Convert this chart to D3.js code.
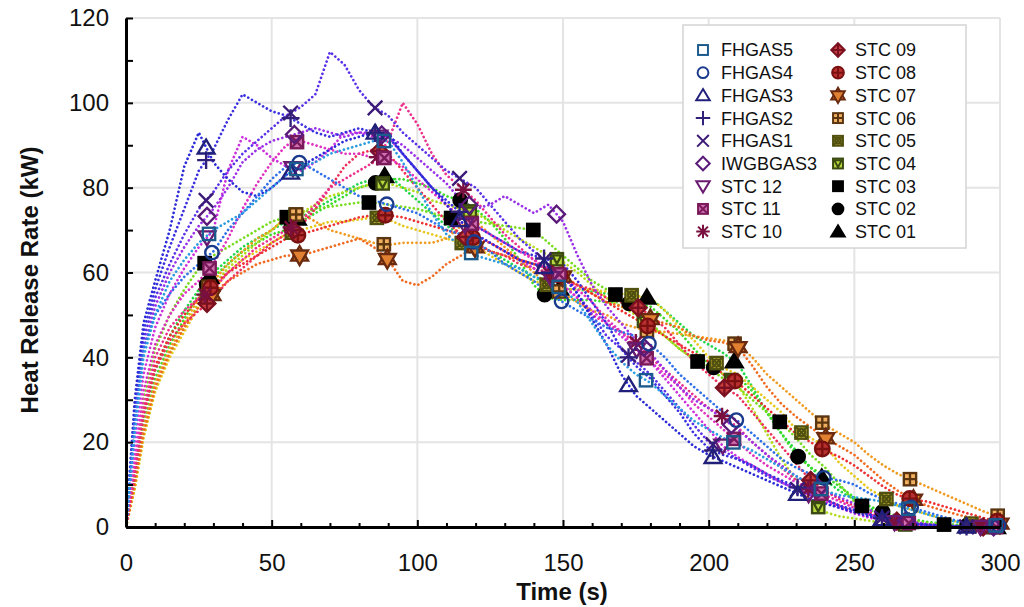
<!DOCTYPE html>
<html><head><meta charset="utf-8">
<script src="https://cdn.jsdelivr.net/npm/d3@7"></script>
<style>body{margin:0;background:#fff;} svg{display:block;font-family:Arial,"Liberation Sans",sans-serif;}</style>
</head><body><svg id="c" width="1024" height="607"></svg>
<script>
// ---- data ----
const times = [0,3,6,10,15,20,25,30,35,40,45,50,55,60,65,70,75,80,85,90,95,100,105,110,115,120,125,130,135,140,145,150,155,160,165,170,175,180,185,190,195,200,205,210,215,220,225,230,235,240,245,250,255,260,265,270,275,280,285,290,295,300];

const seriesNames = ["FHGAS5","FHGAS4","FHGAS3","FHGAS2","FHGAS1","IWGBGAS3","STC 12","STC 11","STC 10","STC 09","STC 08","STC 07","STC 06","STC 05","STC 04","STC 03","STC 02","STC 01"];

const FHGAS5 = [0,22,40, 50,58,63,67,70,72,74,77,80,83, 85,86,88,89,90,91,91,86,80,74, 69,66,64,63,62,61,59,58,56,53, 48,43,39,36,34,31,28,25,23,21, 19.5,18,16,14,12,10,8.5,7.5,7,6.5, 6,5,4,3,2,1.2,0.8,0.5,0.3];
const FHGAS4 = [0,25,42, 50,55,59,62,65,70,74,78,82,85, 86,84,82,80,78,77,76,75,74,72, 70,69,67,65,62,60,58,55,53,51, 49,47,46,45,43,40,36,33,30,27, 25,22,19,16,14,12.5,11.5,11,10,8, 6.5,5.5,4.5,3.5,2.5,1.5,1,0.5,0.3];
const FHGAS3 = [0,30,48, 58,70,85,93,86,82,79,78,80,83, 85,87,89,91,92,93,93,88,84,80, 76,72,69,67,65,63,62,61,60,55, 49,43,36,31,28,25,22,19,17,15.5, 14,12.5,11,9.5,8,6.5,5.5,4.5,3.5,2.5, 1.8,1.2,0.8,0.5,0.3,0.2,0.1,0,0];
const FHGAS2 = [0,28,46, 56,66,75,84,89,96,102,100,98,97, 95,93,92,93,94,93,92,88,84,80, 77,74,71,69,67,65,64,63,62,58, 53,48,42,38,35,31,27,22,18.5,17, 16,14.5,12.5,11,9.5,8,6.5,5,4,3, 2,1.3,0.8,0.5,0.3,0.2,0.1,0,0];
const FHGAS1 = [0,26,44, 54,62,69,75,79,84,88,91,94,97, 99,102,112,109,103,99,97,93,90,87, 84,82,80,76,72,68,65,62,59,55, 50,45,42,39,36,32,28,24,20,18, 16,14,12,10.5,9,7.5,6.5,5,4,3, 2,1.2,0.7,0.4,0.2,0.1,0,0,0];
const IWGBGAS3 = [0,24,42, 52,60,66,71,75,80,86,89,91,92, 93,94,93,92,93,93,92,90,87,84, 81,77,75,76,78,76,74,76,72,64, 57,52,48,44,41,37,33,30,28,25.5, 23,20,17,14.5,12,10,8.5,7,5.5,4, 3,2,1.2,0.7,0.4,0.2,0.1,0,0];
const STC12 = [0,20,36, 47,55,61,66,70,84,92,90,87,85, 84,86,89,93,93,92,92,88,84,80, 76,72,69,67,65,63,61,59,57,54, 51,48,45,42,39,35,31,27,23,19, 16.5,14.5,12.5,10.5,9,7.5,6,4.5,3.2,2.2, 1.5,1,0.6,0.4,0.2,0.1,0,0,0];
const STC11 = [0,16,32, 43,50,55,58,62,68,75,81,86,90, 91,90,89,88,88,87,87,85,82,79, 76,73,71,69,67,65,63,61,59,56, 53,49,46,42,39,36,33,29,26,23, 20,17,14.5,12.5,10.5,9,7.5,6,4.5,3, 2,1.3,0.8,0.5,0.3,0.1,0,0,0];
const STC10 = [0,14,28, 40,47,51,54,56,60,63,66,68,70, 72,76,80,82,84,86,91,100,95,88, 83,80,77,73,69,66,63,60,57,54, 50,48,46,43.5,40,37,34,31,28,26, 23.5,20,17,14,11,8.5,6.5,5,3.5,2.5, 1.5,1,0.6,0.4,0.2,0.1,0,0,0];
const STC09 = [0,12,26, 37,44,48,51,54,58,61,64,67,69, 71,75,80,85,88,89,88,84,80,76, 72,69,67,65,64,62,61,60,58,57, 56,54,53,52,50,47,43,39,36,33, 31,27,23,19,15,11,8.5,6.5,5,3.5, 2.2,1.3,0.8,0.5,0.3,0.1,0,0,0];
const STC08 = [0,13,27, 38,45,50,54,57,60,62,64,66,68, 69,70,71,72,73,73.5,73.5,73,72,71, 70,69,68,67,65,63,62,61,59,57, 55,53,51,49,47,45,43,41,39,36, 34,31,28,25,22,20,18,16.5,14.5,12, 9.5,7.5,6.5,6,5,4,3,2,1.2];
const STC07 = [0,10,22, 33,41,47,52,55,58,60,62,63,64, 64,65,66,67,68,66,63,58,57,59, 62,64,66,65,64,63,62,61,59,57, 55,53,52,51,49,48,47,45,44,43.5, 42.5,38,33,29,26,23.5,21,19,17,14, 11,8.5,6.5,5,4,3,2.2,1.5,0.8];
const STC06 = [0,10,23, 34,42,48,54,58,62,65,68,70,73, 74,72,70,69,68,67,66.5,67,67,67, 68,71,72,69,66,63,60,57,55,53, 51,50,48,47,46,46,45.5,45,44.5,44, 43,40,36,33,30,27,24,22,20,17, 14.5,12.5,11,9.5,8,6.5,5,3.5,2.5];
const STC05 = [0,9,21, 32,40,46,52,56,60,63,65,67,69, 70,71,72,72,72.5,73,72.5,71,70,69, 68,67,66,64,62,60,58,57,56,56, 56,55.5,55,54.5,54,51,47,44,40,37.5, 36,33,30,27,23,21,19,15,12,9, 7,5,4,3,2,1.3,0.8,0.5,0.3];
const STC04 = [0,9,21, 32,41,47,53,57,61,64,67,70,73, 74,76,78,79,80,81,81,80,79,77, 76,75,74,72,70,68,66,64,62.5,60, 57,54,52,50,47.5,45,42,39.5,38,36, 33.5,28,22,16,11,6,3.5,2.5,2,1.5, 1,0.7,0.5,0.3,0.2,0.1,0,0,0];
const STC03 = [0,14,30, 42,50,56,61,64,66,68,70,72,73, 74,75,75.5,76,76.5,76.5,76,75.5,75,74, 73,72.5,72,71.5,71,70.5,70,67,64,61, 58,56,54,51,48,45,42,39.5,37.5,35, 33,30,27,24.5,21,17,14,10,6,4, 3,2,1.5,1,0.6,0.4,0.2,0.1,0];
const STC02 = [0,11,24, 35,43,49,55,59,62,65,67,69,70, 72,74,76,78,80,81,82,82,81,80, 78,77,75,72,68,63,57,54,53.5,53.5, 53.5,53,53,52.5,52,49,46,42,38.5,36, 35.5,32,27,22,17,14,12,9.5,7,5, 3.5,2.5,1.8,1.2,0.8,0.5,0.3,0.1,0];
const STC01 = [0,12,26, 37,45,51,56,60,63,66,68,70,72, 73,75,77,79,81,82,83,80,77,74, 71,69,67,65,63,61,59,57,56,56, 55.5,55,55,54.5,54,51,48,45,43,41, 38.5,33,27,22,18,14,11,8.5,6.5,4.5, 3,1.8,1,0.6,0.4,0.2,0.1,0,0];

const seriesValues = [FHGAS5,FHGAS4,FHGAS3,FHGAS2,FHGAS1,IWGBGAS3,STC12,STC11,STC10,STC09,STC08,STC07,STC06,STC05,STC04,STC03,STC02,STC01];

const dotColors = ["#2b9be0","#2f6fe8","#2a2ad8","#3b30e0","#5a30e8","#9a30e8","#cc30dd","#e030c0","#ec2f8c","#ee2f5a","#ee3030","#f06a20","#f09a20","#e6c81e","#b4dc1e","#78dc1e","#3cdc28","#22d84a"];
const markerTypes = ["square","circle","triangle","plus","cross","diamond","tridown","sqx","asterisk","diaplus","circplus","star6","sqplus","sqxcirc","sqtri","fsquare","fcircle","ftriangle"];
const markerStroke = ["#1a5a8c","#1a3a8c","#20207a","#30207a","#3c1a78","#5a1a7a","#6a1a70","#7a1a5a","#7a1040","#7a1020","#7a1010","#6a2a10","#5a3510","#505010","#3a4a10","#000","#000","#000"];
const markerFill = ["none","none","none","none","none","none","none","#d070b0","none","#c84040","#b83030","#e08030","#f0b060","#e8d040","#b8d840","#000","#000","#000"];
const markerStart = [28.5,29.5,27.5,27.5,27.5,27.8,27.8,28.7,27,27.8,29,29.5,28.3,27.8,28.3,27,27.7,28.8];
const markerStep = [30,30,29,29,29,30,29.5,30,29.6,29.6,30,30.1,30.1,29.15,29.9,28.2,29,30];

const xTickValues = [0,50,100,150,200,250,300];
const yTickValues = [0,20,40,60,80,100,120];

// ---- drawing ----
const svg = d3.select("#c");
const x = d3.scaleLinear().domain([0,300]).range([126,1000]);
const y = d3.scaleLinear().domain([0,120]).range([527,18]);

// grid
const grid = svg.append("g").attr("stroke","#e4e4e4").attr("stroke-width",2);
xTickValues.filter(d=>d>0).forEach(d=>grid.append("line").attr("x1",x(d)).attr("x2",x(d)).attr("y1",y(0)).attr("y2",y(120)));
yTickValues.filter(d=>d>0).forEach(d=>grid.append("line").attr("x1",x(0)).attr("x2",x(300)).attr("y1",y(d)).attr("y2",y(d)));

svg.append("clipPath").attr("id","clip").append("rect").attr("x",126).attr("y",10).attr("width",880).attr("height",520);

// dotted lines
const line = d3.line().x(d=>x(d[0])).y(d=>y(d[1]));
const linesG = svg.append("g").attr("clip-path","url(#clip)");
for (let i = seriesValues.length-1; i >= 0; i--) {
  const pts = times.map((t,k)=>[t, seriesValues[i][k]]);
  linesG.append("path").attr("d", line(pts)).attr("fill","none")
    .attr("stroke", dotColors[i]).attr("stroke-width",2.7)
    .attr("stroke-linecap","round").attr("stroke-dasharray","0.01 4.3");
}

function drawSymbol(g, type, stroke, fill, sw) {
  const add = (tag, attrs) => { const e = g.append(tag); for (const k in attrs) e.attr(k, attrs[k]); e.attr("stroke", stroke).attr("stroke-width", sw); return e; };
  const sq = f => add("rect",{x:-5.5,y:-5.5,width:11,height:11,fill:f});
  switch (type) {
    case "square": sq("none"); break;
    case "circle": add("circle",{r:6,fill:"none"}); break;
    case "triangle": add("path",{d:"M0,-7L7.5,5.5H-7.5Z",fill:"none"}); break;
    case "plus": add("path",{d:"M-8,0H8M0,-8V8",fill:"none"}); break;
    case "cross": add("path",{d:"M-6.5,-6.5L6.5,6.5M-6.5,6.5L6.5,-6.5",fill:"none"}); break;
    case "diamond": add("path",{d:"M0,-7.5L7.5,0L0,7.5L-7.5,0Z",fill:"none"}); break;
    case "tridown": add("path",{d:"M-7.5,-5.5H7.5L0,7Z",fill:"none"}); break;
    case "sqx": sq(fill); add("path",{d:"M-5.5,-5.5L5.5,5.5M-5.5,5.5L5.5,-5.5",fill:"none"}); break;
    case "asterisk": add("path",{d:"M-7.5,0H7.5M0,-7.5V7.5M-5.5,-5.5L5.5,5.5M-5.5,5.5L5.5,-5.5",fill:"none"}); break;
    case "diaplus": add("path",{d:"M0,-7.5L7.5,0L0,7.5L-7.5,0Z",fill:fill}); add("path",{d:"M-7.5,0H7.5M0,-7.5V7.5",fill:"none"}); break;
    case "circplus": add("circle",{r:6.5,fill:fill}); add("path",{d:"M-6.5,0H6.5M0,-6.5V6.5",fill:"none"}); break;
    case "star6": add("path",{d:"M0,-8.5L7.5,4.5H-7.5Z",fill:fill}); add("path",{d:"M0,8.5L7.5,-4.5H-7.5Z",fill:fill}); break;
    case "sqplus": sq(fill); add("path",{d:"M-5.5,0H5.5M0,-5.5V5.5",fill:"none"}); break;
    case "sqxcirc": sq(fill); add("path",{d:"M-5.5,-5.5L5.5,5.5M-5.5,5.5L5.5,-5.5",fill:"none"}); add("circle",{r:3.3,fill:"none"}); break;
    case "sqtri": sq(fill); add("path",{d:"M-4,-3.5H4L0,4Z",fill:"none"}); break;
    case "fsquare": sq("#000"); break;
    case "fcircle": add("circle",{r:6,fill:"#000"}); break;
    case "ftriangle": add("path",{d:"M0,-7L7.5,5.5H-7.5Z",fill:"#000"}); break;
  }
}

function valueAt(vals, t) {
  const i = d3.bisectRight(times, t);
  if (i <= 0) return vals[0];
  if (i >= times.length) return vals[vals.length-1];
  const t0 = times[i-1], t1 = times[i];
  return vals[i-1] + (vals[i]-vals[i-1])*(t-t0)/(t1-t0);
}

// markers
const markG = svg.append("g");
for (let i = seriesValues.length-1; i >= 0; i--) {
  for (let t = markerStart[i]; t <= 300.5; t += markerStep[i]) {
    const tt = Math.min(t, 300);
    const g = markG.append("g").attr("transform", `translate(${x(tt)},${y(valueAt(seriesValues[i], tt))}) scale(1.12)`);
    drawSymbol(g, markerTypes[i], markerStroke[i], markerFill[i], 2.1);
  }
}

// axes
const yAxis = svg.append("g").attr("transform","translate(126,0)")
  .call(d3.axisLeft(y).tickValues(d3.range(0,121,10)).tickSize(-7).tickSizeOuter(0).tickPadding(17)
    .tickFormat(d => d % 20 === 0 ? d : ""));
yAxis.select(".domain").attr("stroke","#000").attr("stroke-width",3);
yAxis.selectAll(".tick line").attr("stroke","#000").attr("stroke-width",2);
yAxis.selectAll("text").attr("font-size",24).attr("fill","#111").attr("font-family","Arial, 'Liberation Sans', sans-serif");

const xAxis = svg.append("g").attr("transform","translate(0,527)")
  .call(d3.axisBottom(x).tickValues(d3.range(0,301,10)).tickSize(-4).tickSizeOuter(0).tickPadding(27)
    .tickFormat(d => d % 50 === 0 ? d : ""));
xAxis.select(".domain").attr("stroke","#000").attr("stroke-width",3);
xAxis.selectAll(".tick line").attr("stroke","#000").attr("stroke-width",2).attr("y2", d => d % 50 === 0 ? -7 : -4);
xAxis.selectAll("text").attr("font-size",24).attr("fill","#111").attr("font-family","Arial, 'Liberation Sans', sans-serif");

// titles
svg.append("text").attr("x",562).attr("y",600).attr("text-anchor","middle")
  .attr("font-size",24).attr("font-weight","bold").attr("fill","#111").text("Time (s)");
svg.append("text").attr("transform","translate(38,280) rotate(-90)").attr("text-anchor","middle")
  .attr("font-size",24).attr("font-weight","bold").attr("fill","#111").text("Heat Release Rate (kW)");

// legend
const leg = svg.append("g");
leg.append("rect").attr("x",683).attr("y",25).attr("width",283).attr("height",223)
  .attr("fill","#fff").attr("stroke","#d4d4d4").attr("stroke-width",1.5);
seriesNames.forEach((name,i) => {
  const col = i < 9 ? 0 : 1, row = i % 9;
  const sx = col === 0 ? 703 : 838, tx = col === 0 ? 721 : 855;
  const cy = 50 + row*22.7;
  const g = leg.append("g").attr("transform",`translate(${sx},${cy}) scale(0.9)`);
  drawSymbol(g, markerTypes[i], markerStroke[i], markerFill[i], 2.2);
  leg.append("text").attr("x",tx).attr("y",cy).attr("dy","0.36em").attr("font-size",18).attr("fill","#111").text(name);
});
</script></body></html>
